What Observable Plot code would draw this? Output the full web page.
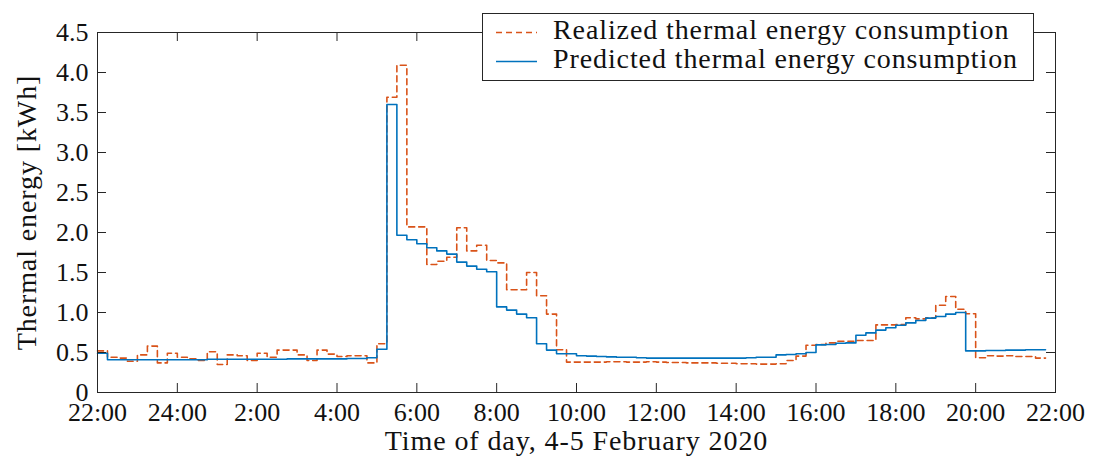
<!DOCTYPE html>
<html>
<head>
<meta charset="utf-8">
<script src="https://cdn.jsdelivr.net/npm/d3@7"></script>
<script src="https://cdn.jsdelivr.net/npm/@observablehq/plot@0.6"></script>
<style>
  body { margin: 0; background: #fff; }
  #wrap { position: relative; width: 1093px; height: 457px; }
  #legend { position: absolute; left: 0; top: 0; pointer-events: none; }
</style>
</head>
<body>
<div id="wrap"></div>
<script>
// ---- data (hours since 22:00 on 4 Feb; 15-minute intervals) ----
const xTickHours  = [0, 2, 4, 6, 8, 10, 12, 14, 16, 18, 20, 22, 24];
const xTickLabels = ["22:00","24:00","2:00","4:00","6:00","8:00","10:00","12:00","14:00","16:00","18:00","20:00","22:00"];
const yTicks      = [0, 0.5, 1, 1.5, 2, 2.5, 3, 3.5, 4, 4.5];
const yTickLabels = ["0","0.5","1.0","1.5","2.0","2.5","3.0","3.5","4.0","4.5"];
const seriesNames = ["Realized thermal energy consumption", "Predicted thermal energy consumption"];
const xLabel = "Time of day, 4-5 February 2020";
const yLabel = "Thermal energy [kWh]";
const intervalHours = 0.25;

const realized = [
  0.52, 0.44, 0.43, 0.39, 0.47, 0.58, 0.37, 0.49, 0.44, 0.42,
  0.40, 0.51, 0.35, 0.47, 0.46, 0.40, 0.49, 0.44, 0.53, 0.53,
  0.47, 0.40, 0.53, 0.48, 0.45, 0.46, 0.46, 0.37, 0.61, 3.69,
  4.09, 2.07, 2.07, 1.60, 1.64, 1.69, 2.06, 1.77, 1.84, 1.65,
  1.62, 1.285, 1.285, 1.50, 1.21, 0.98, 0.535, 0.38, 0.38, 0.38,
  0.38, 0.385, 0.385, 0.38, 0.38, 0.385, 0.38, 0.375, 0.375, 0.37,
  0.37, 0.37, 0.365, 0.365, 0.36, 0.36, 0.355, 0.355, 0.36, 0.40,
  0.455, 0.59, 0.60, 0.62, 0.64, 0.64, 0.65, 0.65, 0.845, 0.845,
  0.85, 0.935, 0.92, 0.935, 1.09, 1.20, 1.04, 0.985, 0.435, 0.46,
  0.455, 0.46, 0.45, 0.45, 0.43
];
const predicted = [
  0.49, 0.41, 0.41, 0.41, 0.41, 0.41, 0.41, 0.41, 0.41, 0.41,
  0.41, 0.415, 0.415, 0.415, 0.415, 0.415, 0.415, 0.415, 0.415, 0.42,
  0.42, 0.42, 0.42, 0.42, 0.42, 0.425, 0.425, 0.435, 0.54, 3.60,
  1.965, 1.91, 1.86, 1.81, 1.77, 1.73, 1.63, 1.58, 1.54, 1.51,
  1.07, 1.03, 0.98, 0.935, 0.61, 0.53, 0.485, 0.485, 0.46, 0.455,
  0.45, 0.445, 0.44, 0.44, 0.435, 0.43, 0.43, 0.43, 0.43, 0.43,
  0.43, 0.43, 0.43, 0.43, 0.43, 0.435, 0.44, 0.44, 0.47, 0.475,
  0.485, 0.50, 0.595, 0.60, 0.615, 0.62, 0.715, 0.745, 0.78, 0.81,
  0.84, 0.87, 0.90, 0.93, 0.95, 0.98, 1.00, 0.52, 0.52, 0.525,
  0.525, 0.53, 0.53, 0.535, 0.535
];
const colors = ["#D95319", "#0072BD"];

// step table: each value starts at its interval; final point closes the last step
function steps(values) {
  const pts = values.map((v, i) => ({t: i * intervalHours, v}));
  pts.push({t: values.length * intervalHours, v: values[values.length - 1]});
  return pts;
}

const W = 1093, H = 457;
const mL = 97, mR = 38, mT = 32, mB = 65;
const innerW = W - mL - mR, innerH = H - mT - mB;
const tickLen = 9;
const font = "'Liberation Serif', serif";
const axisColor = "#262626";
const textColor = "#111";

const chart = Plot.plot({
  width: W, height: H,
  marginLeft: mL, marginRight: mR, marginTop: mT, marginBottom: mB,
  style: {fontFamily: font, fontSize: "26px", color: textColor, background: "#fff"},
  x: {domain: [0, 24]},
  y: {domain: [0, 4.5]},
  marks: [
    Plot.line(steps(realized), {x: "t", y: "v", curve: "step-after", stroke: colors[0], strokeWidth: 1.6, strokeDasharray: "6,4"}),
    Plot.line(steps(predicted), {x: "t", y: "v", curve: "step-after", stroke: colors[1], strokeWidth: 1.6}),
    Plot.frame({stroke: axisColor, strokeWidth: 1}),
    Plot.tickX(xTickHours, {x: d => d, insetTop: innerH - tickLen, stroke: axisColor}),
    Plot.tickX(xTickHours, {x: d => d, insetBottom: innerH - tickLen, stroke: axisColor}),
    Plot.tickY(yTicks, {y: d => d, insetRight: innerW - tickLen, stroke: axisColor}),
    Plot.tickY(yTicks, {y: d => d, insetLeft: innerW - tickLen, stroke: axisColor}),
    Plot.axisX(xTickHours, {
      tickSize: 0, tickPadding: 10, fontSize: 26, label: null,
      tickFormat: d => xTickLabels[xTickHours.indexOf(d)]
    }),
    Plot.axisY(yTicks, {
      tickSize: 0, tickPadding: 9, fontSize: 26, label: null,
      tickFormat: d => yTickLabels[yTicks.indexOf(d)]
    }),
    Plot.text([xLabel], {text: d => d, frameAnchor: "bottom", dy: 49, fontSize: 28, fill: textColor, textAnchor: "middle", lineAnchor: "middle"}),
    Plot.text([yLabel], {text: d => d, frameAnchor: "left", dx: -70, rotate: -90, fontSize: 28, fill: textColor, textAnchor: "middle", lineAnchor: "middle"})
  ]
});
chart.querySelectorAll("text").forEach(t => {
  if (t.textContent === xLabel || t.textContent === yLabel) t.setAttribute("letter-spacing", "0.9");
});
document.getElementById("wrap").appendChild(chart);

// legend overlay
const ns = "http://www.w3.org/2000/svg";
const lg = document.createElementNS(ns, "svg");
lg.setAttribute("id", "legend");
lg.setAttribute("width", W); lg.setAttribute("height", 100);
const box = {x: 482, y: 13, w: 551, h: 67};
lg.innerHTML = `<rect x="${box.x + 0.5}" y="${box.y + 0.5}" width="${box.w}" height="${box.h}" fill="#fff" stroke="${axisColor}" stroke-width="1"/>`;
seriesNames.forEach((name, i) => {
  const cy = box.y + 19.5 + i * 29;
  const ln = document.createElementNS(ns, "line");
  ln.setAttribute("x1", box.x + 14); ln.setAttribute("x2", box.x + 55);
  ln.setAttribute("y1", cy); ln.setAttribute("y2", cy);
  ln.setAttribute("stroke", colors[i]); ln.setAttribute("stroke-width", 1.6);
  if (i === 0) ln.setAttribute("stroke-dasharray", "6,4");
  lg.appendChild(ln);
  const tx = document.createElementNS(ns, "text");
  tx.setAttribute("x", box.x + 71); tx.setAttribute("y", cy + 6.5);
  tx.setAttribute("font-family", font); tx.setAttribute("font-size", 28);
  tx.setAttribute("letter-spacing", "0.9");
  tx.setAttribute("fill", textColor);
  tx.textContent = name;
  lg.appendChild(tx);
});
document.getElementById("wrap").appendChild(lg);
</script>
</body>
</html>
